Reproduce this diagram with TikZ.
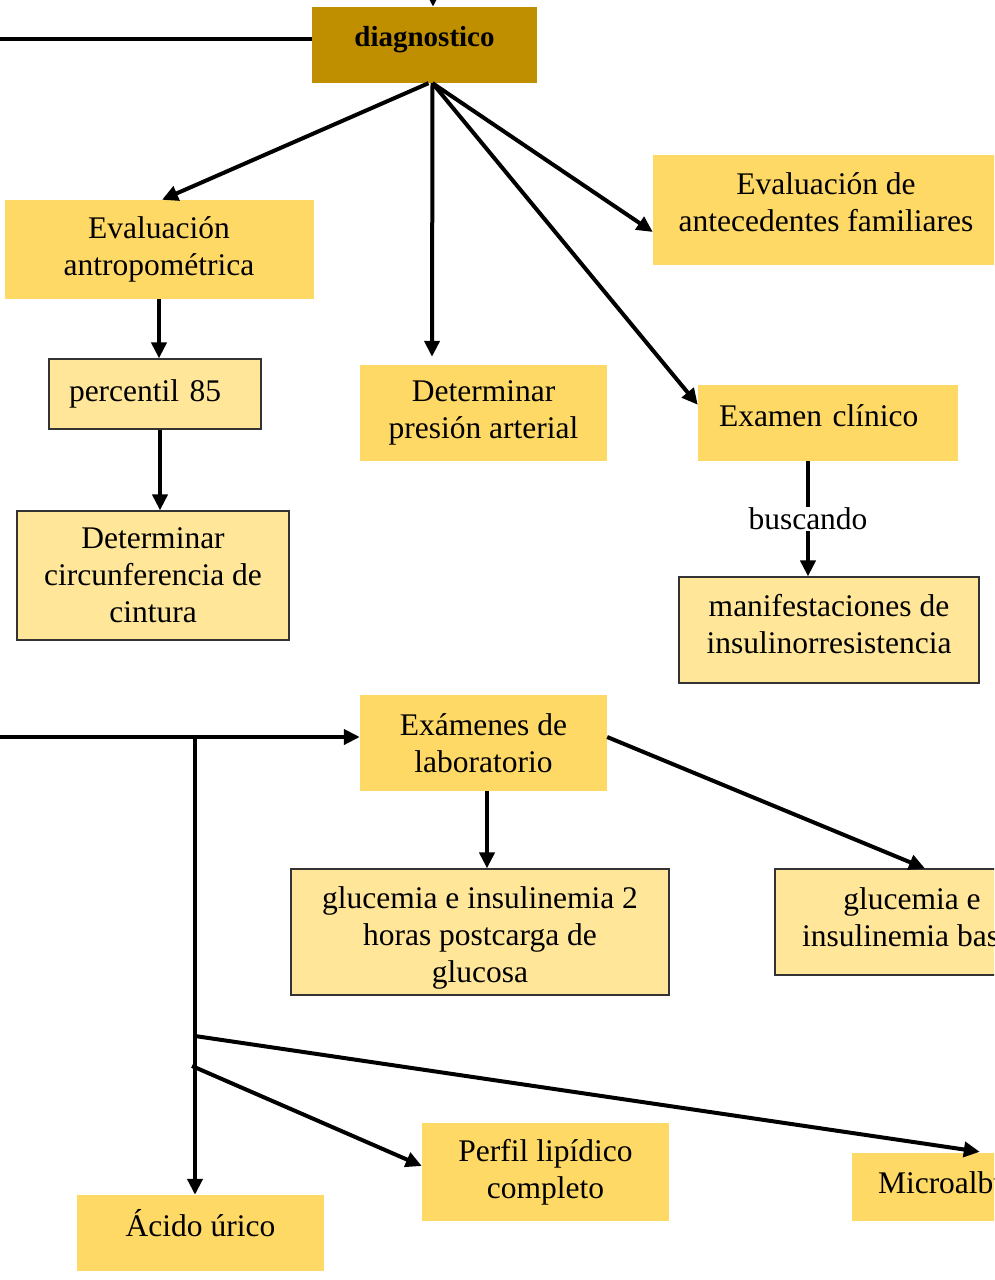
\documentclass[tikz,border=0pt]{standalone}
\usepackage{fontspec}
\setmainfont{Liberation Serif}
\usetikzlibrary{arrows.meta}
\definecolor{golddark}{RGB}{191,143,0}
\definecolor{goldmid}{RGB}{255,217,102}
\definecolor{goldlight}{RGB}{255,230,153}
% text lifted inside its box, box size kept
\newcommand{\liftlines}[2]{\raisebox{#1}[\height][\depth]{\begin{tabular}{@{}c@{}}#2\end{tabular}}}
\begin{document}
\begin{tikzpicture}[x=1pt, y=-1pt,
    box/.style={fill=goldmid, align=center, inner sep=0pt, font=\fontsize{31.5pt}{37pt}\selectfont},
    framed/.style={box, fill=goldlight, draw=black!80, line width=1.2pt},
    arr/.style={line width=4pt, -{Triangle[length=16pt,width=15pt]}},
    conn/.style={line width=4pt}]
      % Page frame
      \clip (0,0) rectangle (994,1280);

      % Top box
      \node[box, fill=golddark, font=\bfseries\fontsize{29pt}{34pt}\selectfont, minimum width=225pt, minimum height=76pt] (diag) at (424.5,45) {\raisebox{5pt}[\height][\depth]{diagnostico}};

      % First level boxes
      \node[box, minimum width=309pt, minimum height=99pt] (antro) at (159,249.5) {Evaluación\\antropométrica};
      \node[box, minimum width=247pt, minimum height=96pt] (pres) at (483.5,413) {Determinar\\presión arterial};
      \node[box, minimum width=346pt, minimum height=110pt] (ante) at (826,210) {\liftlines{4pt}{Evaluación de\\antecedentes familiares}};
      \node[box, align=left, inner xsep=21pt, text width=218pt, minimum height=76pt] (exam) at (828,423) {\raisebox{7pt}[\height][\depth]{Examen clínico}};

      % Second level boxes
      \node[framed, align=left, inner xsep=20pt, text width=172pt, minimum height=70pt] (perc) at (155,394) {percentil 85};
      \node[framed, minimum width=272pt, minimum height=129pt] (cint) at (153,575.5) {Determinar\\circunferencia de\\cintura};
      \node[framed, minimum width=300pt, minimum height=106pt] (mani) at (829,630) {\liftlines{2pt}{manifestaciones de\\insulinorresistencia}};

      % Laboratory boxes
      \node[box, minimum width=247pt, minimum height=96pt] (lab) at (483.5,743) {Exámenes de\\laboratorio};
      \node[framed, minimum width=378pt, minimum height=126pt] (post) at (480,932) {\liftlines{-6pt}{glucemia e insulinemia 2\\horas postcarga de\\glucosa}};
      \node[framed, minimum width=274pt, minimum height=106pt] (basal) at (912,922) {\liftlines{1pt}{glucemia e\\insulinemia basal}};
      \node[box, minimum width=247pt, minimum height=98pt] (perf) at (545.5,1172) {Perfil lipídico\\completo};
      \node[box, align=left, inner xsep=26pt, text width=240pt, minimum height=68pt] (micro) at (998,1187) {\raisebox{4pt}[\height][\depth]{Microalbuminuria}};
      \node[box, minimum width=247pt, minimum height=76pt] (acido) at (200.5,1233) {\raisebox{10pt}[\height][\depth]{Ácido úrico}};

      % Lines into the top box
      \coordinate (topline) at (0,39);
      \coordinate (topin) at (433,-30);
      \draw[conn] (topline) -- (topline -| diag.west);
      \draw[arr] (topin) -- (topin |- diag.north);

      % Arrows from diagnostico
      \draw[arr] ([xshift=4pt]diag.south) -- ([xshift=3pt]antro.north);
      \draw[arr] ([xshift=8pt]diag.south) -- ([xshift=-51.5pt,yshift=8pt]pres.north);
      \draw[arr] ([xshift=8pt]diag.south) -- ([yshift=-20pt]exam.north west);
      \draw[arr] ([xshift=8pt]diag.south) -- ([yshift=-22pt]ante.west);

      % Anthropometric chain
      \draw[arr] (antro.south) -- (antro.south |- perc.north);
      \draw[arr] ([xshift=5pt]perc.south) -- ([xshift=5pt]perc.south |- cint.north);

      % Clinical exam
      \draw[arr] ([xshift=-20pt]exam.south) -- ([xshift=-21pt]mani.north)
        node[midway, fill=white, inner sep=1pt, font=\fontsize{31.5pt}{37pt}\selectfont] (busc) {buscando};

      % Laboratory branch
      \coordinate (labin) at (0,737);
      \coordinate (fork) at (195,737);
      \coordinate (mfrom) at (195,1036);
      \coordinate (pfrom) at (192,1066);
      \draw[arr] (labin) -- (labin -| lab.west);
      \draw[arr] (fork) -- (fork |- acido.north);
      \draw[arr] ([xshift=3.5pt]lab.south) -- ([xshift=3.5pt]lab.south |- post.north);
      \draw[arr] ([yshift=6pt]lab.east) -- ([xshift=13pt]basal.north);
      \draw[arr] (mfrom) -- ([xshift=128pt,yshift=1pt]micro.north west);
      \draw[arr] (pfrom) -- ([yshift=6pt]perf.west);
    \end{tikzpicture}
\end{document}
